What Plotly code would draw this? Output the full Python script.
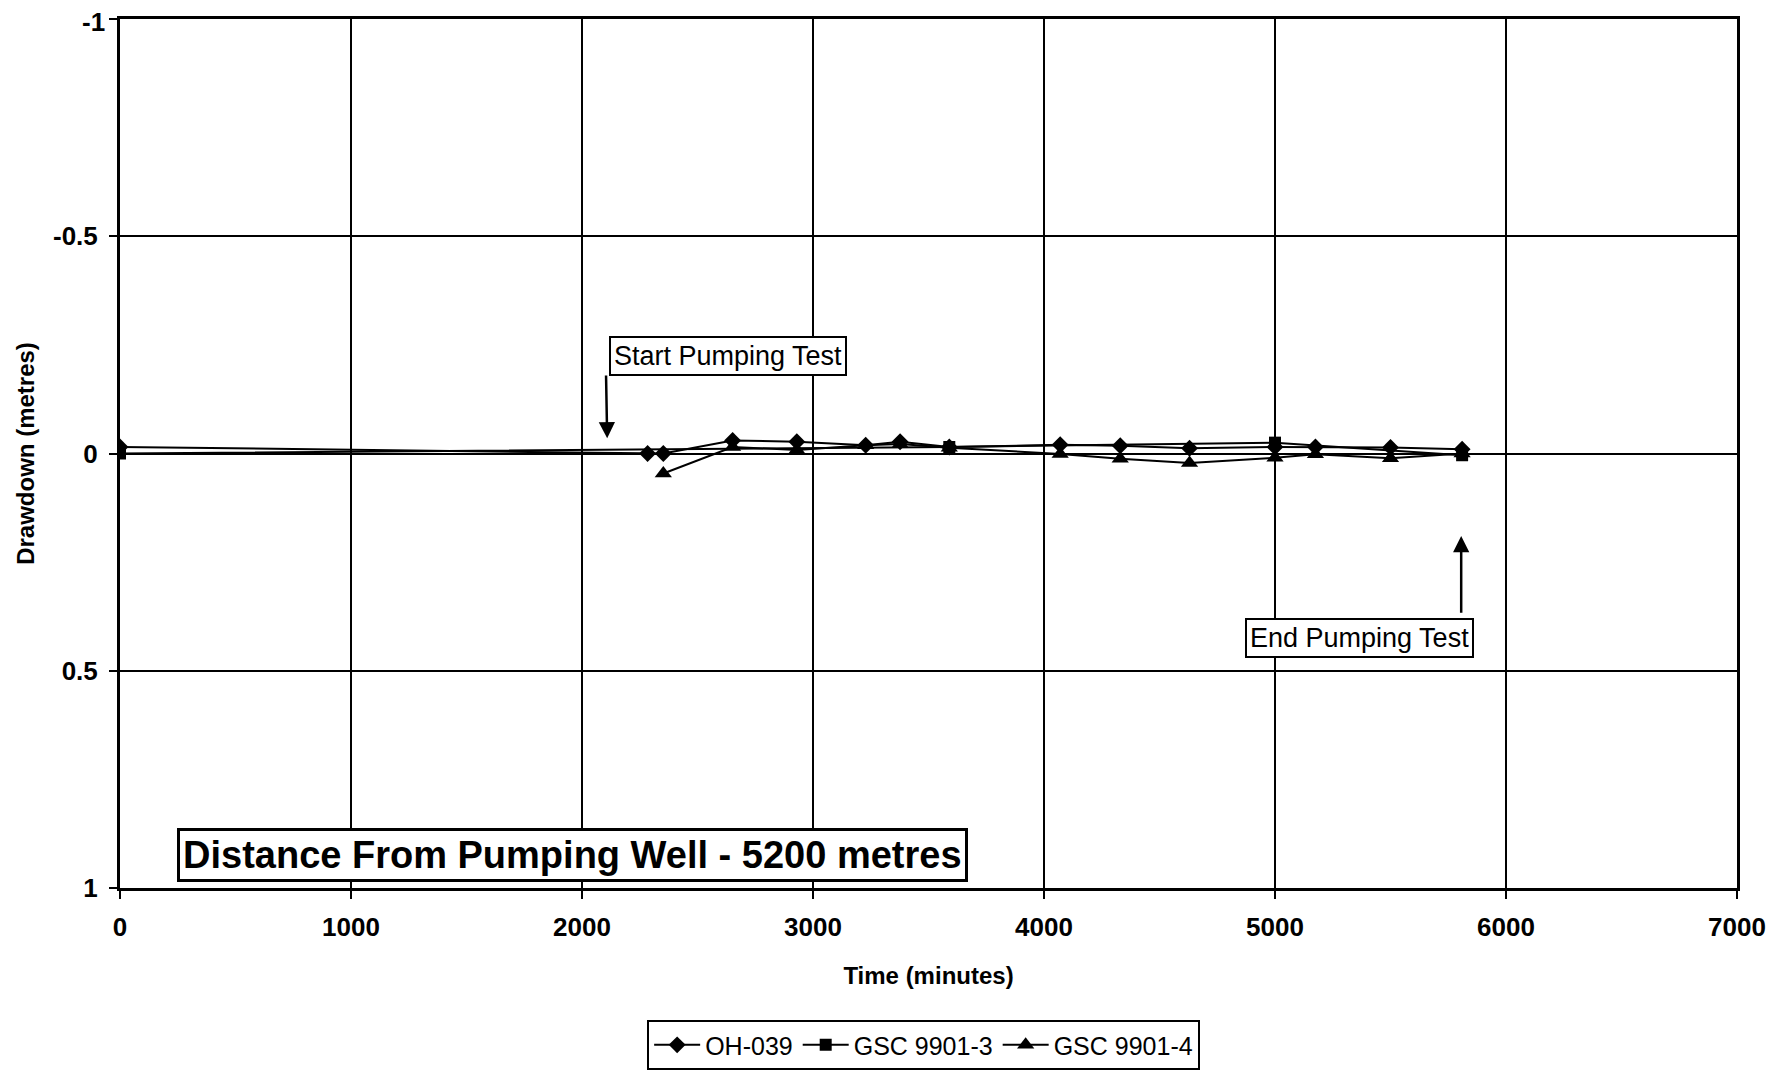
import plotly.graph_objects as go

# ---- data ----
oh039_t = [0, 2284, 2352, 2652, 2930, 3228, 3377, 3590, 4070, 4330, 4630, 5000, 5175, 5500, 5810]
oh039_d = [-0.015, 0.0, 0.0, -0.03, -0.027, -0.019, -0.027, -0.015, -0.02, -0.018, -0.012, -0.015, -0.015, -0.014, -0.01]

gsc3_t = [0, 3590, 5000, 5810]
gsc3_d = [0.0, -0.015, -0.025, 0.004]

gsc4_t = [2352, 2652, 2930, 3228, 3377, 3590, 4070, 4330, 4630, 5000, 5175, 5500, 5810]
gsc4_d = [0.046, -0.015, -0.008, -0.019, -0.022, -0.013, 0.001, 0.012, 0.022, 0.010, 0.002, 0.011, 0.0]

x_ticks = [0, 1000, 2000, 3000, 4000, 5000, 6000, 7000]
x_labels = ["<b>0</b>", "<b>1000</b>", "<b>2000</b>", "<b>3000</b>", "<b>4000</b>", "<b>5000</b>", "<b>6000</b>", "<b>7000</b>"]
y_ticks = [-1, -0.5, 0, 0.5, 1]
y_labels = ["<b>-1</b>", "<b>-0.5</b>", "<b>0</b>", "<b>0.5</b>", "<b>1</b>"]

FONT = "Arial, Liberation Sans, sans-serif"

fig = go.Figure()
fig.add_trace(go.Scatter(x=oh039_t, y=oh039_d, name="OH-039", mode="lines+markers",
                         line=dict(color="black", width=2),
                         marker=dict(symbol="diamond", size=13, color="black")))
fig.add_trace(go.Scatter(x=gsc3_t, y=gsc3_d, name="GSC 9901-3", mode="lines+markers",
                         line=dict(color="black", width=2),
                         marker=dict(symbol="square", size=12, color="black")))
fig.add_trace(go.Scatter(x=gsc4_t, y=gsc4_d, name="GSC 9901-4", mode="lines+markers",
                         line=dict(color="black", width=2),
                         marker=dict(symbol="triangle-up", size=15, color="black")))

axis_common = dict(showgrid=True, gridcolor="black", gridwidth=1.5,
                   showline=True, linecolor="black", linewidth=3, mirror=True,
                   ticks="outside", ticklen=8, tickwidth=2, tickcolor="black",
                   zeroline=False, automargin=False,
                   tickfont=dict(family=FONT, size=26, color="black"))

fig.update_xaxes(range=[0, 7000], tickvals=x_ticks, ticktext=x_labels, ticklabelstandoff=6,
                 title=dict(text="<b>Time (minutes)</b>", font=dict(family=FONT, size=24, color="black"),
                            standoff=26),
                 **axis_common)
# the top tick label (-1) is drawn as an annotation nudged a few px down so it stays inside the page
y_tick_text = ["" if v == -1 else t for v, t in zip(y_ticks, y_labels)]
fig.update_yaxes(range=[1, -1], tickvals=y_ticks, ticktext=y_tick_text, ticklabelstandoff=6,
                 title=dict(text="<b>Drawdown (metres)</b>", font=dict(family=FONT, size=24, color="black"),
                            standoff=12),
                 **axis_common)
fig.add_annotation(xref="paper", x=0, y=y_ticks[0], yref="y", text=y_labels[0], showarrow=False,
                   xanchor="right", xshift=-13, yshift=-3,
                   font=dict(family=FONT, size=26, color="black"))

# Annotations
fig.add_annotation(x=2630, y=-0.224, text="Start Pumping Test", showarrow=False,
                   font=dict(family=FONT, size=27, color="black"),
                   bordercolor="black", borderwidth=2, borderpad=3, bgcolor="white")
fig.add_annotation(x=2109, y=-0.035, ax=2104, ay=-0.183, axref="x", ayref="y",
                   text="", showarrow=True, arrowhead=2, arrowsize=1.3, arrowwidth=2.5, arrowcolor="black")

fig.add_annotation(x=5364, y=0.425, text="End Pumping Test", showarrow=False,
                   font=dict(family=FONT, size=27, color="black"),
                   bordercolor="black", borderwidth=2, borderpad=3, bgcolor="white")
fig.add_annotation(x=5806, y=0.19, ax=5806, ay=0.37, axref="x", ayref="y",
                   text="", showarrow=True, arrowhead=2, arrowsize=1.3, arrowwidth=2.5, arrowcolor="black")

fig.add_annotation(x=1957, y=0.924, text="<b>Distance From Pumping Well - 5200 metres</b>", showarrow=False,
                   font=dict(family=FONT, size=38, color="black"),
                   bordercolor="black", borderwidth=3, borderpad=3, bgcolor="white")

fig.update_layout(
    width=1778, height=1063,
    paper_bgcolor="white", plot_bgcolor="white",
    margin=dict(l=112, r=49, t=11, b=183, autoexpand=False),
    showlegend=True,
    legend=dict(orientation="h", x=0.497, xanchor="center", y=-0.152, yanchor="top",
                bordercolor="black", borderwidth=2, bgcolor="white",
                font=dict(family=FONT, size=25, color="black"),
                itemwidth=46, tracegroupgap=0),
)

fig.write_html("out.html")
